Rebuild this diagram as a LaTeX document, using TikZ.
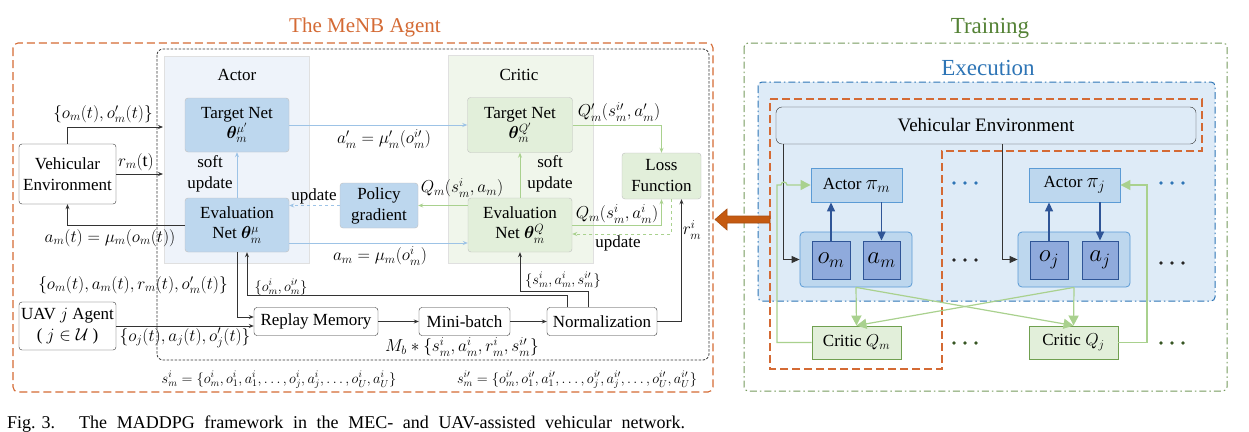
\documentclass[tikz,border=0pt]{standalone}
\usepackage{amsmath}
\usepackage{bm}
\usepackage{fontspec}
\setmainfont{Liberation Serif}
\usetikzlibrary{arrows.meta,calc}
\definecolor{orng}{RGB}{212,106,52}
\definecolor{actbg}{RGB}{238,243,250}
\definecolor{crbg}{RGB}{240,246,235}
\definecolor{actbox}{RGB}{189,215,238}
\definecolor{crbox}{RGB}{226,239,218}
\definecolor{lblue}{RGB}{157,195,230}
\definecolor{lgreen}{RGB}{169,209,142}
\definecolor{exfill}{RGB}{222,235,247}
\definecolor{exblue}{RGB}{46,117,182}
\definecolor{trgreen}{RGB}{84,130,53}
\definecolor{dblue}{RGB}{47,85,151}
\definecolor{obox}{RGB}{143,170,220}
\definecolor{grpbd}{RGB}{91,155,213}
\definecolor{brwn}{RGB}{197,90,17}
\definecolor{cqbd}{RGB}{112,160,80}
\definecolor{dgreen}{RGB}{55,86,35}
\begin{document}
\begin{tikzpicture}[x=1pt,y=-1pt,
  >={Stealth[length=5pt,width=4pt]},
  sz/.style 2 args={minimum width=#1,minimum height=#2},
  txt/.style={font=\fontsize{17}{21}\selectfont},
  mtxt/.style={font=\fontsize{18}{21}\selectfont,inner sep=0pt},
  smtxt/.style={font=\fontsize{14}{17}\selectfont,inner sep=0pt},
  abox/.style={txt,fill=actbox,draw=black!25,rounded corners=3pt,align=center,inner sep=0pt},
  cbox/.style={txt,fill=crbox,draw=black!25,rounded corners=3pt,align=center,inner sep=0pt},
  wbox/.style={txt,fill=white,draw=black!80,rounded corners=3pt,align=center,inner sep=0pt},
  lbl/.style={txt,inner sep=0pt},
  bline/.style={draw=lblue,line width=0.9pt},
  gline/.style={draw=lgreen,line width=0.9pt},
  kline/.style={draw=black!80,line width=0.9pt},
  rbox/.style={font=\fontsize{17}{21}\selectfont,inner sep=0pt,align=center},
  dbarrow/.style={draw=dblue,line width=1.4pt,-{Triangle[length=9pt,width=8pt]}},
  grarrow/.style={draw=lgreen,line width=1.2pt,-{Triangle[length=10pt,width=10pt]}}
]
\useasboundingbox (0,0) rectangle (1249,431);
\fill[white] (0,0) rectangle (1249,431);

%================ LEFT PART =================
\node[font=\fontsize{21}{24}\selectfont,text=orng] (ttl) at (365,27) {The MeNB Agent};
\draw[orng,line width=1.1pt,dash pattern=on 8pt off 4pt,rounded corners=5pt] (13,43) rectangle (713,392);
\draw[black!80,line width=0.8pt,dash pattern=on 2.5pt off 1.5pt,rounded corners=6pt] (157,49) rectangle (709,360);

\fill[actbg,draw=black!12] (164,56) rectangle (309,263);
\fill[crbg,draw=black!12] (448,55) rectangle (593,263);
\node[txt] (actl) at (237,75) {Actor};
\node[txt] (crl) at (519,75) {Critic};

\node[abox,sz={104pt}{54pt}] (atgt) at (237,125) {Target Net\\[-1pt] $\bm{\theta}_m^{\mu'}$};
\node[abox,sz={104pt}{54pt}] (aev) at (237,225) {Evaluation\\[-1pt] Net $\bm{\theta}_m^{\mu}$};
\node[cbox,sz={105pt}{55pt}] (ctgt) at (520,125) {Target Net\\[-1pt] $\bm{\theta}_m^{Q'}$};
\node[cbox,sz={104pt}{54pt}] (cev) at (520,225) {Evaluation\\[-1pt] Net $\bm{\theta}_m^{Q}$};
\node[cbox,sz={79pt}{46pt}] (loss) at (661.5,176) {Loss\\Function};
\node[abox,sz={78pt}{45pt}] (pg) at (379,205.5) {Policy\\gradient};

\node[wbox,sz={97pt}{60pt}] (venv) at (67.5,174) {Vehicular\\Environment};
\node[wbox,sz={97pt}{48pt}] (uav) at (67.5,326) {UAV $j$ Agent\\( $j\in\mathcal{U}$ )};
\node[wbox,sz={124pt}{28pt}] (rm) at (316,321.5) {Replay Memory};
\node[wbox,sz={91pt}{28pt}] (mb) at (464.5,321.5) {Mini-batch};
\node[wbox,sz={110pt}{28pt}] (norm) at (602,321.5) {Normalization};

% environment connectors
\coordinate (inA) at (163,127);
\coordinate (inB) at (163,174);
\draw[kline,->] (venv.north) |- (inA);
\draw[kline,->] (venv.east) -- (inB);
\draw[kline,->] (aev.west) -| (venv.south);
\node[mtxt] (l1) at (103,114) {$\{o_m(t),o_m'(t)\}$};
\node[mtxt] (l2) at (136,162) {$r_m(\mathrm{t})$};
\node[mtxt] (l3) at (110,238) {$a_m(t)=\mu_m(o_m(t))$};

% actor / critic connectors
\draw[bline,->] (aev.north) -- (atgt.south);
\node[lbl,align=center] (l4) at (210,174) {soft\\update};
\draw[bline,->] (atgt.east) -- (ctgt.west);
\node[mtxt] (l5) at (384,139) {$a_m'=\mu_m'(o_m^{i\prime})$};
\draw[bline,->] ($(aev.east)+(0,18)$) -- ($(cev.west)+(0,18)$);
\node[mtxt] (l6) at (380,256) {$a_m=\mu_m(o_m^{i})$};
\draw[bline,dashed,->] (pg.west) -- (pg.west -| aev.east);
\node[lbl] (l7) at (314,196) {update};
\draw[gline,->] (cev.west |- pg.east) -- (pg.east);
\node[mtxt] (l8) at (462,188) {$Q_m(s_m^{i},a_m)$};
\draw[gline,->] (cev.north) -- (ctgt.south);
\node[lbl,align=center] (l9) at (550,174) {soft\\update};
\draw[gline,->] (ctgt.east) -| (loss.south |- loss.north);
\node[mtxt] (l10) at (619,112) {$Q_m'(s_m^{i\prime},a_m')$};
\draw[gline,->] (cev.east) -| (loss.south);
\node[mtxt] (l11) at (617,214) {$Q_m(s_m^{i},a_m^{i})$};
\draw[gline,dashed,->] ($(loss.south)+(10,0)$) |- ($(cev.east)+(0,9)$);
\node[lbl] (l12) at (618,243) {update};
\draw[kline,->] (norm.east) -| ($(loss.south)+(20,0)$);
\node[mtxt] (l13) at (692,230) {$r_m^{i}$};

% memory flow
\draw[kline,->] (aev.south) |- ($(rm.west)+(0,-4.5)$);
\node[mtxt] (l14) at (133,285) {$\{o_m(t),a_m(t),r_m(t),o_m'(t)\}$};
\draw[kline,->] (uav.east) -- (uav.east -| rm.west);
\node[mtxt] (l17) at (185,338) {$\{o_j(t),a_j(t),o_j'(t)\}$};
\draw[kline,->] (rm.east) -- (mb.west);
\draw[kline,->] (mb.east) -- (norm.west);
\node[mtxt] (l18) at (462,347) {$M_b*\{s_m^{i},a_m^{i},r_m^{i},s_m^{i\prime}\}$};
\coordinate (j1) at (247,295);
\draw[kline,->] ($(norm.north west)+(21,0)$) |- (j1) -- ($(aev.south)+(10,0)$);
\node[smtxt] (l15) at (281,287) {$\{o_m^{i},o_m^{i\prime}\}$};
\draw[kline,->] ($(norm.north west)+(42,0)$) |- ($(cev.south)+(0,39)$) -- (cev.south);
\node[smtxt] (l19) at (563,280) {$\{s_m^{i},a_m^{i},s_m^{i\prime}\}$};

\node[smtxt] (l20) at (279,380) {$s_m^{i}=\{o_m^{i},o_1^{i},a_1^{i},\dots,o_j^{i},a_j^{i},\dots,o_U^{i},a_U^{i}\}$};
\node[smtxt] (l21) at (577,380) {$s_m^{i\prime}=\{o_m^{i\prime},o_1^{i\prime},a_1^{i\prime},\dots,o_j^{i\prime},a_j^{i\prime},\dots,o_U^{i\prime},a_U^{i\prime}\}$};

%================ RIGHT PART =================
\node[font=\fontsize{23}{26}\selectfont,text=trgreen] (trl) at (990,28) {Training};
\draw[trgreen!80,line width=1pt,dash pattern=on 7pt off 3pt on 1.5pt off 3pt,rounded corners=4pt] (744,43) rectangle (1227,391);
\node[font=\fontsize{23}{26}\selectfont,text=exblue] (exl) at (988,68) {Execution};
\draw[exblue,fill=exfill,line width=1pt,dash pattern=on 7pt off 3pt on 1.5pt off 3pt,rounded corners=4pt] (758,82) rectangle (1215,301);
\draw[orng,line width=1.1pt,dash pattern=on 8pt off 4pt] (770,99) -- (1202,99) -- (1202,151) -- (942,151) -- (942,369) -- (770,369) -- cycle;

\node[rbox,font=\fontsize{19}{22}\selectfont,draw=black!80,fill=exfill,rounded corners=6pt,sz={420pt}{37pt}] (ve2) at (986,125.5) {Vehicular Environment};

\node[rbox,fill=actbox,draw=grpbd,line width=0.9pt,sz={91pt}{34pt}] (actm) at (856.5,185) {Actor \fontsize{21}{21}\selectfont$\pi_m$};
\node[rbox,fill=actbox,draw=grpbd,line width=0.9pt,sz={91pt}{34pt}] (actj) at (1074.5,185) {Actor \fontsize{21}{21}\selectfont$\pi_j$};
\node[fill=actbox,draw=grpbd,line width=0.8pt,rounded corners=4pt,sz={112pt}{55pt},inner sep=0pt] (grpm) at (856,259.5) {};
\node[fill=actbox,draw=grpbd,line width=0.8pt,rounded corners=4pt,sz={112pt}{55pt},inner sep=0pt] (grpj) at (1074,259.5) {};
\node[rbox,font=\fontsize{24}{26}\selectfont,fill=obox,draw=dblue,line width=0.9pt,sz={38pt}{38pt}] (om) at (831,260) {$o_m$};
\node[rbox,font=\fontsize{24}{26}\selectfont,fill=obox,draw=dblue,line width=0.9pt,sz={37pt}{38pt}] (am) at (881.5,260) {$a_m$};
\node[rbox,font=\fontsize{24}{26}\selectfont,fill=obox,draw=dblue,line width=0.9pt,sz={38pt}{38pt}] (oj) at (1049,260) {$o_j$};
\node[rbox,font=\fontsize{24}{26}\selectfont,fill=obox,draw=dblue,line width=0.9pt,sz={36pt}{38pt}] (aj) at (1100,260) {$a_j$};
\node[rbox,fill=crbox,draw=cqbd,line width=0.9pt,sz={89pt}{33pt}] (cqm) at (856.5,342.5) {Critic $Q_m$};
\node[rbox,fill=crbox,draw=cqbd,line width=0.9pt,sz={89pt}{33pt}] (cqj) at (1073.5,342.5) {Critic $Q_j$};

\draw[kline,-{Triangle[length=8pt,width=7pt]}] ($(ve2.south west)+(8,0)$) |- (grpm.west);
\draw[kline,-{Triangle[length=8pt,width=7pt]}] ($(ve2.south west)+(227,0)$) |- (grpj.west);

\draw[dbarrow] (om.north) -- (om.north |- actm.south);
\draw[dbarrow] (am.north |- actm.south) -- (am.north);
\draw[dbarrow] (oj.north) -- (oj.north |- actj.south);
\draw[dbarrow] (aj.north |- actj.south) -- (aj.north);

\draw[grarrow] (grpm.south) -- (cqm.north);
\draw[grarrow] (grpm.south) -- (cqj.north);
\draw[grarrow] (grpj.south) -- (cqm.north);
\draw[grarrow] (grpj.south) -- (cqj.north);
\coordinate (hm) at (777,185);
\draw[grarrow] (cqm.west) -| (hm) -- (781,185) arc (180:360:3) -- (actm.west);
\coordinate (hj) at (1147,185);
\draw[grarrow] (cqj.east) -| (hj) -- (actj.east);

\foreach \cx/\cy/\cc in {965/183/exblue,1172/183/exblue,965/260/black!85,1172/263/black!85,965/343/dgreen,1172/343/dgreen}{
  \foreach \dx in {-11,0,11}{\fill[\cc] (\cx+\dx,\cy) circle (1.9);}
}

% big arrow between parts
\coordinate (ba1) at (770,219.5);
\coordinate (ba2) at (715,219.5);
\draw[brwn!85!black,fill=brwn,line width=0.6pt] (ba1) ++(0,-3.5) -- ++(-43,0) -- ++(0,-7) -- (ba2) -- ++(12,10.5) -- ++(0,-7) -- ++(43,0) -- cycle;

% caption
\node[anchor=base west,inner sep=0pt,font=\fontsize{18}{20}\selectfont] (cap) at (7,428) {Fig. 3.\hspace{24pt}\makebox[606pt][s]{The MADDPG framework in the MEC- and UAV-assisted vehicular network.}};
\end{tikzpicture}
\end{document}
